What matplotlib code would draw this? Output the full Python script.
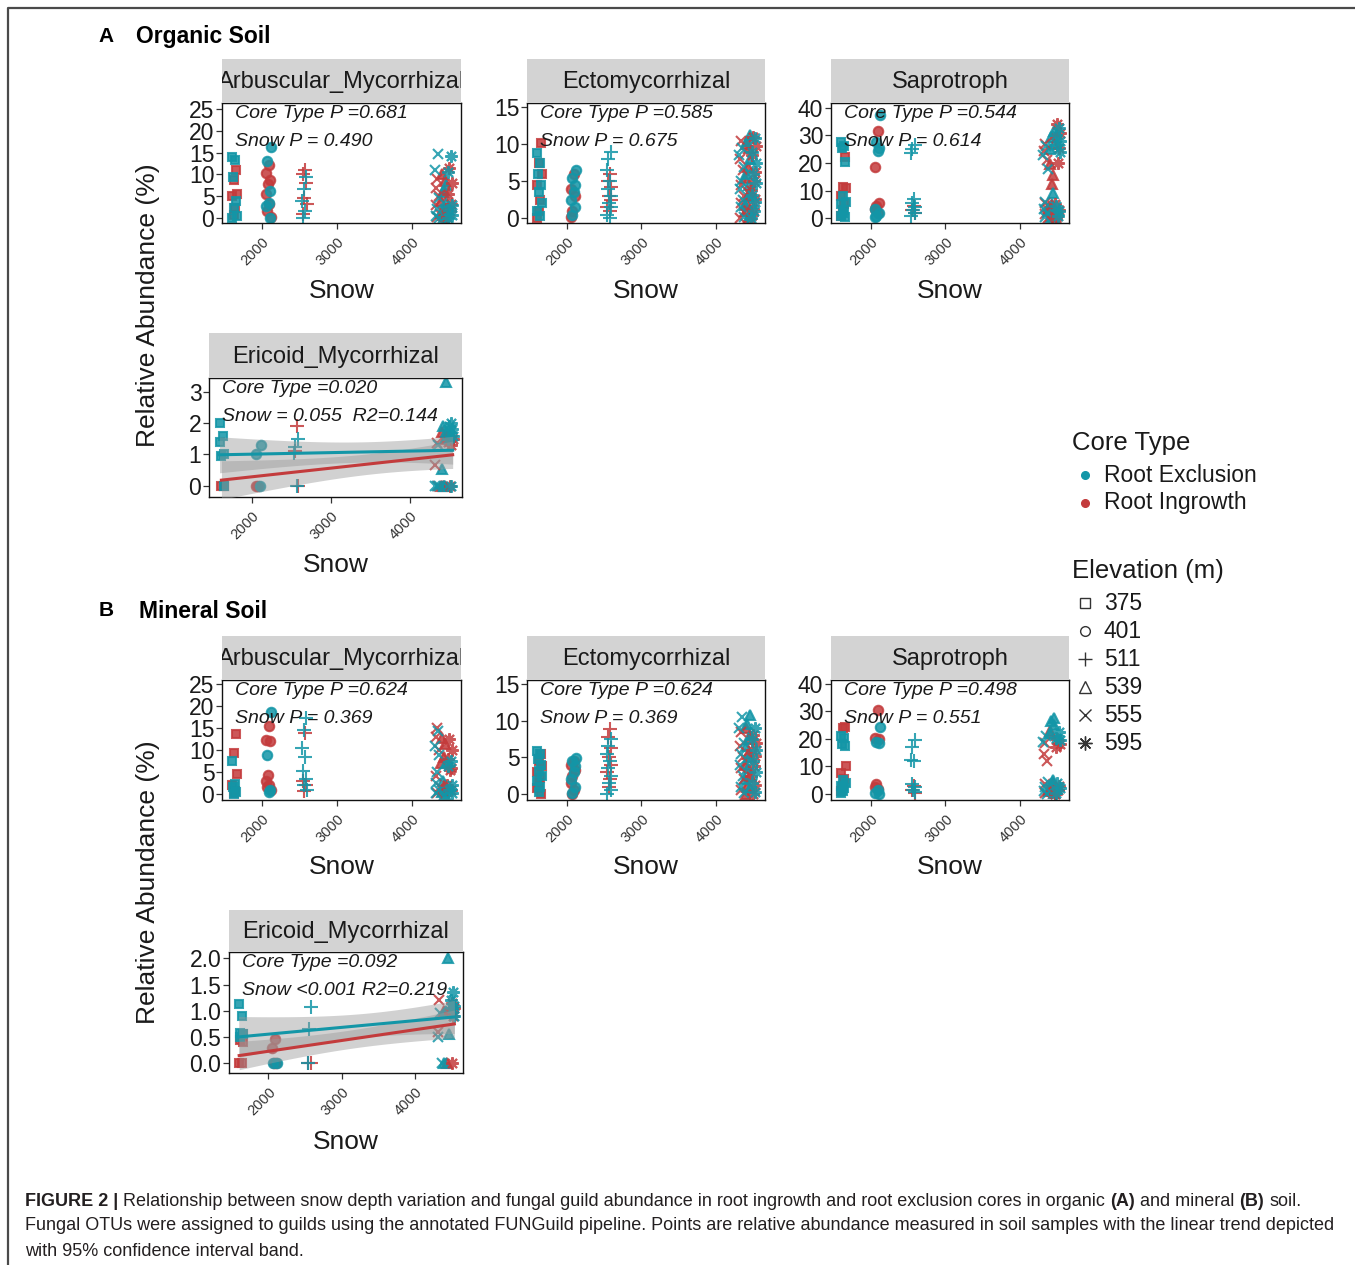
import numpy as np
import matplotlib
matplotlib.use('Agg')
import matplotlib.pyplot as plt

plt.rcParams['font.family'] = ['Liberation Sans', 'DejaVu Sans']

W, H = 1355, 1265
TEAL = '#1396a7'
RED = '#c33b3c'

elevations = ['375', '401', '511', '539', '555', '595']
snow = [1625, 2085, 2565, 4430, 4350, 4510]
core_types = ['Root Exclusion', 'Root Ingrowth']
# small fixed horizontal spread (snow units) so stacked points stay visible
jitter = [-30, 12, -18, 26, -6, 32, -24, 16, 2, -34, 22, -12]

# relative abundance (%), one list per elevation: 375, 401, 511, 539, 555, 595
org_am_excl = [[14.0, 13.2, 9.5, 3.8, 2.3, 0.4, 0.0], [16.2, 13.0, 6.1, 3.4, 2.7, 0.0],
               [9.4, 6.6, 3.8, 1.5, 0.0], [7.6, 6.0, 3.5, 1.5, 0.5, 0.2],
               [14.6, 11.0, 4.5, 2.0, 0.5, 0.0], [14.3, 10.6, 3.0, 1.8, 0.8, 0.1]]
org_am_ingr = [[11.0, 8.8, 5.6, 5.0, 2.3, 0.8], [12.2, 10.3, 8.8, 7.7, 5.4, 3.1, 1.5, 0.3],
               [11.0, 10.2, 8.0, 4.6, 3.1, 1.0], [10.0, 8.5, 6.5, 4.0, 2.0, 0.8],
               [9.0, 7.0, 5.0, 3.0, 1.0, 0.2], [11.5, 8.0, 5.5, 3.2, 1.5, 0.3]]

org_ecto_excl = [[8.8, 7.5, 6.0, 4.5, 3.5, 2.0, 1.0, 0.3], [6.5, 5.5, 4.5, 3.5, 2.5, 1.5, 0.5],
                 [9.0, 8.0, 6.5, 5.0, 4.0, 3.0, 2.0, 1.5, 0.5, 0.0],
                 [11.2, 10.5, 8.0, 6.0, 4.5, 3.0, 1.8, 0.5],
                 [9.5, 8.5, 7.0, 5.0, 4.0, 2.5, 1.5, 0.2],
                 [10.8, 9.0, 7.5, 6.0, 4.8, 3.2, 2.2, 1.0, 0.0]]
org_ecto_ingr = [[10.2, 7.5, 6.0, 4.5, 2.5, 1.0, 0.0], [6.0, 4.0, 3.0, 1.0, 0.2],
                 [6.0, 5.0, 4.2, 3.0, 2.5, 1.5, 1.0],
                 [10.0, 9.5, 7.0, 5.5, 3.5, 2.0, 1.0, 0.2],
                 [10.5, 8.0, 6.5, 4.5, 3.0, 2.0, 0.8, 0.0],
                 [11.0, 9.8, 8.5, 6.2, 5.0, 3.8, 2.6, 1.2, 0.4]]

org_sap_excl = [[27.5, 26.0, 25.5, 20.5, 8.0, 6.0, 5.0, 3.0, 2.0, 1.0, 0.5],
                [37.5, 27.5, 25.5, 24.5, 3.5, 2.0, 1.0, 0.3],
                [26.5, 25.0, 23.5, 7.0, 5.5, 4.0, 3.0, 2.0, 1.0],
                [31.5, 29.5, 27.0, 25.0, 9.0, 5.0, 3.0, 1.0, 0.3],
                [26.0, 23.0, 18.0, 6.0, 3.5, 2.0, 0.5],
                [32.5, 30.0, 28.0, 26.5, 24.0, 4.5, 2.5, 0.8]]
org_sap_ingr = [[22.0, 11.5, 11.0, 8.0, 5.0, 3.0, 1.0], [31.5, 18.5, 5.5, 4.5, 3.5, 2.0],
                [4.5, 3.0, 2.0], [19.5, 15.5, 12.5, 4.5, 2.5, 1.0],
                [27.0, 24.5, 21.0, 5.5, 3.0, 1.5, 0.2],
                [34.0, 31.0, 29.0, 25.5, 20.0, 5.0, 3.0, 1.0, 0.0]]

org_eric_excl = [[2.0, 1.6, 1.4, 1.0, 0.95, 0.0], [1.3, 1.0, 0.0], [1.5, 1.25, 1.05, 0.0],
                 [3.3, 1.9, 1.7, 0.55, 0.0, 0.0], [1.3, 0.0, 0.0, 0.0],
                 [2.0, 1.9, 1.8, 1.7, 1.6, 1.5, 0.0]]
org_eric_ingr = [[0.0, 0.0, 0.0], [0.0, 0.0], [1.9, 1.1, 0.0], [1.7, 1.5, 0.0, 0.0],
                 [1.35, 0.65, 0.0], [1.6, 1.5, 1.4, 1.3, 0.0]]

min_am_excl = [[7.5, 2.3, 1.5, 0.5, 0.0], [18.8, 9.0, 1.0, 0.5],
               [17.3, 14.5, 10.5, 8.5, 5.3, 3.5, 2.0, 1.0], [7.0, 3.0, 1.5, 0.5, 0.0],
               [14.3, 11.0, 9.0, 5.0, 2.5, 1.0, 0.2], [7.5, 6.5, 2.0, 1.0, 0.3]]
min_am_ingr = [[13.7, 9.3, 4.5, 2.0, 0.8, 0.2], [15.5, 12.3, 12.0, 4.3, 3.0, 2.0, 1.5, 1.0],
               [14.0, 3.0, 2.0, 0.8], [12.8, 11.5, 8.5, 7.0, 2.0, 0.8],
               [15.0, 13.0, 10.0, 4.0, 1.5, 0.3], [12.5, 10.0, 8.0, 6.0, 5.5, 2.0, 1.0]]

min_ecto_excl = [[5.8, 5.5, 4.8, 4.0, 3.2, 2.5, 1.8, 1.0, 0.3], [4.9, 4.5, 3.8, 3.0, 2.0, 1.0, 0.2],
                 [7.5, 6.5, 5.5, 4.5, 3.5, 2.5, 1.5, 0.5, 0.0],
                 [10.8, 9.5, 8.0, 6.5, 5.0, 3.5, 2.0, 0.8],
                 [10.5, 9.0, 7.0, 5.5, 4.0, 2.5, 1.0, 0.2], [9.0, 7.5, 6.0, 4.5, 3.0, 1.5, 0.3]]
min_ecto_ingr = [[5.5, 4.5, 3.8, 3.0, 2.2, 1.5, 0.8, 0.0], [4.5, 4.0, 3.3, 2.5, 1.5, 0.5, 0.0],
                 [8.8, 7.8, 6.3, 5.0, 4.0, 3.0, 2.0, 1.0], [9.0, 7.5, 5.5, 4.0, 2.5, 1.0, 0.0],
                 [8.5, 6.5, 5.0, 3.5, 2.0, 0.5], [8.0, 7.0, 6.0, 5.2, 3.8, 2.5, 1.2, 0.0]]

min_sap_excl = [[21.0, 20.5, 18.0, 17.5, 5.0, 4.0, 3.0, 2.0, 1.0, 0.3],
                [24.2, 19.0, 18.5, 1.5, 0.5, 0.0], [19.5, 17.0, 12.5, 12.0, 3.5, 2.5, 1.5, 0.8],
                [27.5, 26.5, 25.0, 22.0, 5.0, 3.0, 1.5, 0.5], [21.0, 19.0, 4.5, 2.5, 1.0, 0.0],
                [22.5, 20.5, 19.5, 4.0, 2.0, 0.5]]
min_sap_ingr = [[24.2, 24.0, 10.0, 7.5, 5.5, 3.0, 1.0], [30.5, 20.5, 20.0, 3.5, 2.5, 1.8],
                [3.0, 1.5, 0.5], [23.0, 4.0, 2.5, 1.0], [18.5, 14.5, 12.0, 3.5, 1.5, 0.3],
                [20.0, 18.0, 17.0, 3.0, 1.5, 0.0]]

min_eric_excl = [[1.13, 0.9, 0.58, 0.55, 0.5], [0.0, 0.0], [1.08, 0.65, 0.0],
                 [2.0, 1.0, 0.55, 0.0], [0.95, 0.5, 0.0], [1.35, 1.2, 1.1, 1.05, 0.9]]
min_eric_ingr = [[0.55, 0.45, 0.4, 0.0, 0.0], [0.47, 0.3, 0.0, 0.0], [0.0, 0.0], [1.0, 0.0],
                 [1.2, 0.6], [1.15, 1.05, 0.95, 0.9, 0.0]]

xticks = [2000, 3000, 4000]
yt_am = ['0', '5', '10', '15', '20', '25']
yt_ecto = ['0', '5', '10', '15']
yt_sap = ['0', '10', '20', '30', '40']
yt_eric_org = ['0', '1', '2', '3']
yt_eric_min = ['0.0', '0.5', '1.0', '1.5', '2.0']

markers = ['s', 'o', '+', '^', 'x', (8, 2, 0)]
msizes = [6.3, 6.8, 9.5, 7.8, 7.5, 9.0]

fig = plt.figure(figsize=(W / 100, H / 100), dpi=100)


def lm_band(x, y, grid):
    x = np.asarray(x, float)
    y = np.asarray(y, float)
    n = len(x)
    slope, icpt = np.polyfit(x, y, 1)
    s = np.sqrt(((y - icpt - slope * x) ** 2).sum() / (n - 2))
    sxx = ((x - x.mean()) ** 2).sum()
    se = s * np.sqrt(1.0 / n + (grid - x.mean()) ** 2 / sxx)
    df = n - 2
    z = 1.959964
    t = z + (z ** 3 + z) / (4 * df) + (5 * z ** 5 + 16 * z ** 3 + 3 * z) / (96 * df ** 2)
    fit = icpt + slope * grid
    return fit, fit - t * se, fit + t * se


def panel(rect, strip_top, title, excl, ingr, ylabels, ylim, notes, smooth=False):
    l, t, r, b = rect
    ax = fig.add_axes([l / W, 1 - b / H, (r - l) / W, (b - t) / H])
    st = fig.add_axes([l / W, 1 - t / H, (r - l) / W, (t - strip_top) / H])
    st.set_facecolor('#d3d3d3')
    st.set_xticks([])
    st.set_yticks([])
    for sp in st.spines.values():
        sp.set_visible(False)
    st.text(0.5, 0.47, title, transform=st.transAxes, ha='center', va='center',
            fontsize=17, color='#1a1a1a', clip_on=True)

    fit_x = {RED: [], TEAL: []}
    fit_y = {RED: [], TEAL: []}
    for i in range(len(elevations)):
        for vals, col in ((ingr[i], RED), (excl[i], TEAL)):
            xs = [snow[i] + jitter[(k + 5 * i + (col == RED) * 3) % len(jitter)]
                  for k in range(len(vals))]
            ax.plot(xs, vals, linestyle='none', marker=markers[i], ms=msizes[i],
                    color=col, mew=1.5, alpha=0.85, zorder=2)
            fit_x[col] += xs
            fit_y[col] += vals

    if smooth:
        for col in (TEAL, RED):
            grid = np.linspace(min(fit_x[col]), max(fit_x[col]), 80)
            fit, lo, hi = lm_band(fit_x[col], fit_y[col], grid)
            ax.fill_between(grid, lo, hi, color='#9a9a9a', alpha=0.45, lw=0, zorder=3)
            ax.plot(grid, fit, color=col, lw=2.2, zorder=4)

    # note baselines sit 15 px and 43 px below the panel top
    h = b - t
    xoff = 13.0 / (r - l)
    for txt, off in zip(notes, (15.0, 43.0)):
        ax.text(xoff, 1 - off / h, txt, transform=ax.transAxes, ha='left', va='baseline',
                fontsize=14, style='italic', color='#1a1a1a', zorder=6)

    ax.set_xlim(1462, 4660)
    ax.set_ylim(*ylim)
    ax.set_xticks(xticks)
    ax.set_xticklabels([str(v) for v in xticks], rotation=45, ha='right', va='top',
                       rotation_mode='anchor', fontsize=10.5, color='#333333')
    ax.set_yticks([float(v) for v in ylabels])
    ax.set_yticklabels(ylabels, fontsize=16.5, color='#1a1a1a')
    ax.tick_params(axis='both', length=4, width=0.9, color='#333333')
    ax.tick_params(axis='y', pad=1.5)
    ax.tick_params(axis='x', pad=4.5)
    for sp in ax.spines.values():
        sp.set_linewidth(1.0)
        sp.set_color('#111111')
    return ax


panel((222, 103, 461, 223), 59, 'Arbuscular_Mycorrhizal', org_am_excl, org_am_ingr,
      yt_am, (-1.15, 26.4), ['Core Type P =0.681', 'Snow P = 0.490'])
panel((527, 103, 765, 223), 59, 'Ectomycorrhizal', org_ecto_excl, org_ecto_ingr,
      yt_ecto, (-0.65, 15.6), ['Core Type P =0.585', 'Snow P = 0.675'])
panel((831, 103, 1069, 223), 59, 'Saprotroph', org_sap_excl, org_sap_ingr,
      yt_sap, (-1.7, 41.7), ['Core Type P =0.544', 'Snow P = 0.614'])
panel((209, 378, 462, 497), 333, 'Ericoid_Mycorrhizal', org_eric_excl, org_eric_ingr,
      yt_eric_org, (-0.36, 3.44), ['Core Type =0.020', 'Snow = 0.055  R2=0.144'],
      smooth=True)

panel((222, 680, 461, 800), 636, 'Arbuscular_Mycorrhizal', min_am_excl, min_am_ingr,
      yt_am, (-1.36, 26.0), ['Core Type P =0.624', 'Snow P = 0.369'])
panel((527, 680, 765, 800), 636, 'Ectomycorrhizal', min_ecto_excl, min_ecto_ingr,
      yt_ecto, (-0.82, 15.55), ['Core Type P =0.624', 'Snow P = 0.369'])
panel((831, 680, 1069, 800), 636, 'Saprotroph', min_sap_excl, min_sap_ingr,
      yt_sap, (-2.2, 41.45), ['Core Type P =0.498', 'Snow P = 0.551'])
panel((229, 952, 463, 1073), 910, 'Ericoid_Mycorrhizal', min_eric_excl, min_eric_ingr,
      yt_eric_min, (-0.185, 2.12), ['Core Type =0.092', 'Snow <0.001 R2=0.219'],
      smooth=True)

# overlay in pixel coordinates for titles, legend, frame and caption
ov = fig.add_axes([0, 0, 1, 1], zorder=10)
ov.set_xlim(0, W)
ov.set_ylim(H, 0)
ov.axis('off')
ov.patch.set_alpha(0)

ov.plot([8, 8, W], [H, 8, 8], color='#4a4a4a', lw=1.6, solid_capstyle='butt')

ov.text(106, 36, 'A', fontsize=15, fontweight='bold', ha='center', va='center')
ov.text(136, 36, 'Organic Soil', fontsize=16.5, fontweight='bold', ha='left', va='center')
ov.text(106, 610, 'B', fontsize=15, fontweight='bold', ha='center', va='center')
ov.text(139, 612, 'Mineral Soil', fontsize=16.5, fontweight='bold', ha='left', va='center')

for yc in (305, 882):
    ov.text(148, yc, 'Relative Abundance (%)', fontsize=19, rotation=90,
            ha='center', va='center', color='#1a1a1a')
for xc, yc in ((342, 291), (646, 291), (950, 291), (336, 565),
               (342, 867), (646, 867), (950, 867), (346, 1142)):
    ov.text(xc, yc, 'Snow', fontsize=19, ha='center', va='center', color='#1a1a1a')

# legend
ov.text(1072, 443, 'Core Type', fontsize=18.5, ha='left', va='center', color='#1a1a1a')
for k, (lab, col) in enumerate(zip(core_types, (TEAL, RED))):
    yy = 475 + 28 * k
    ov.plot([1085], [yy], marker='o', ms=5.5, color=col, linestyle='none')
    ov.text(1104, yy, lab, fontsize=16.5, ha='left', va='center', color='#1a1a1a')

leg_ms = [6.5, 7.0, 10.0, 8.0, 8.0, 10.0]
ov.text(1072, 571, 'Elevation (m)', fontsize=18.5, ha='left', va='center', color='#1a1a1a')
for k, (lab, mk) in enumerate(zip(elevations, markers)):
    yy = 603 + 28 * k
    ov.plot([1085], [yy], marker=mk, ms=leg_ms[k], color='#333333',
            mfc='none', mew=1.0, linestyle='none')
    ov.text(1104, yy, lab, fontsize=16.5, ha='left', va='center', color='#1a1a1a')

# caption with bold pieces
renderer = fig.canvas.get_renderer()
cap_fs = 12.95
cap_col = '#231f20'


def width_of(s, weight):
    tt = ov.text(0, 0, s, fontsize=cap_fs, fontweight=weight)
    w = tt.get_window_extent(renderer).width
    tt.remove()
    return w


space_w = width_of('a a', 'normal') - width_of('aa', 'normal')


def rich_line(x, y, parts):
    for txt, bold in parts:
        tt = ov.text(x, y, txt, fontsize=cap_fs, fontweight='bold' if bold else 'normal',
                     ha='left', va='center', color=cap_col)
        x += tt.get_window_extent(renderer).width + space_w


rich_line(25, 1201, [('FIGURE 2 |', True),
                     ('Relationship between snow depth variation and fungal guild abundance '
                      'in root ingrowth and root exclusion cores in organic', False),
                     ('(A)', True), ('and mineral', False), ('(B)', True), ('soil.', False)])
rich_line(25, 1226, [('Fungal OTUs were assigned to guilds using the annotated FUNGuild pipeline. '
                      'Points are relative abundance measured in soil samples with the linear '
                      'trend depicted', False)])
rich_line(25, 1251, [('with 95% confidence interval band.', False)])

fig.savefig('out.png', dpi=100)
